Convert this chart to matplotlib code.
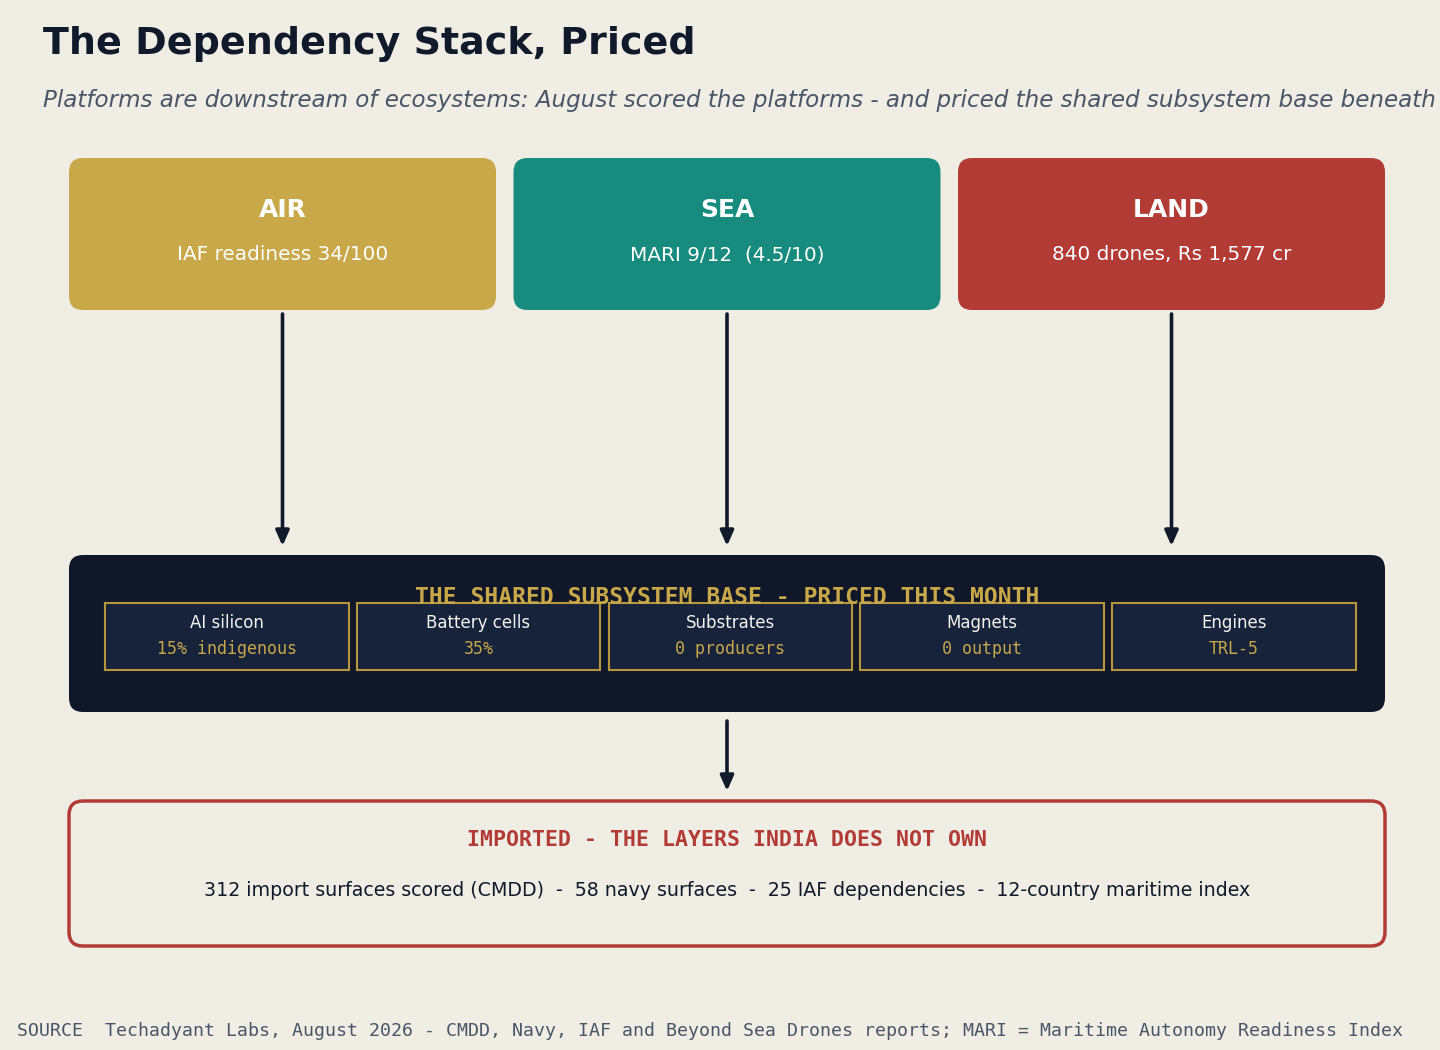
import matplotlib
matplotlib.use("Agg")
import matplotlib.pyplot as plt
from matplotlib.patches import FancyBboxPatch, Rectangle

# ---- data ----
title = "The Dependency Stack, Priced"
subtitle = ("Platforms are downstream of ecosystems: August scored the platforms - "
            "and priced the shared subsystem base beneath")
domains = ["AIR", "SEA", "LAND"]
domain_stats = ["IAF readiness 34/100", "MARI 9/12  (4.5/10)", "840 drones, Rs 1,577 cr"]
domain_colors = ["#c9a84a", "#168b7e", "#b33b35"]
base_title = "THE SHARED SUBSYSTEM BASE - PRICED THIS MONTH"
subsystems = ["AI silicon", "Battery cells", "Substrates", "Magnets", "Engines"]
subsystem_values = ["15% indigenous", "35%", "0 producers", "0 output", "TRL-5"]
import_title = "IMPORTED - THE LAYERS INDIA DOES NOT OWN"
import_items = ["312 import surfaces scored (CMDD)", "58 navy surfaces",
                "25 IAF dependencies", "12-country maritime index"]
source = ("SOURCE  Techadyant Labs, August 2026 - CMDD, Navy, IAF and Beyond Sea Drones "
          "reports; MARI = Maritime Autonomy Readiness Index")

BG = "#efede4"
NAVY = "#111a2b"
DARK = "#0f1729"
CELL = "#16233a"
GOLD = "#c9a84a"
GOLD_EDGE = "#b8963e"
RED = "#b33b35"
GRAY = "#4a5568"
SANS = ["DejaVu Sans"]
MONO = ["DejaVu Sans Mono"]

fig = plt.figure(figsize=(14.4, 10.5), dpi=100, facecolor=BG)
ax = fig.add_axes([0, 0, 1, 1])
ax.set_xlim(0, 1440)
ax.set_ylim(1050, 0)
ax.axis("off")
ax.set_facecolor(BG)

# title / subtitle
ax.text(43, 44, title, fontsize=27.4, fontweight="bold", color=NAVY,
        family="DejaVu Sans", va="center", ha="left")
ax.text(43, 100, subtitle, fontsize=16.55, fontstyle="italic", color=GRAY,
        family="DejaVu Sans", va="center", ha="left")

# top domain boxes
box_w, box_gap, x0 = 427, 17.5, 69
top_y, top_h = 158, 152
for i, (name, stat, col) in enumerate(zip(domains, domain_stats, domain_colors)):
    bx = x0 + i * (box_w + box_gap)
    p = FancyBboxPatch((bx, top_y), box_w, top_h,
                       boxstyle="round,pad=0,rounding_size=14",
                       facecolor=col, edgecolor="none")
    ax.add_patch(p)
    cx = bx + box_w / 2
    ax.text(cx, 210, name, fontsize=18, fontweight="bold", color="white",
            family="DejaVu Sans", ha="center", va="center")
    ax.text(cx, 255, stat, fontsize=14.4, color="white", family=SANS,
            ha="center", va="center")
    ax.annotate("", xy=(cx, 546), xytext=(cx, 314),
                arrowprops=dict(arrowstyle="-|>,head_length=0.9,head_width=0.4",
                                color=NAVY, lw=2.6, shrinkA=0, shrinkB=0))

# shared base
p = FancyBboxPatch((69, 555), 1316, 157, boxstyle="round,pad=0,rounding_size=14",
                   facecolor=DARK, edgecolor="none")
ax.add_patch(p)
ax.text(727, 597, base_title, fontsize=16.6, fontweight="bold", color=GOLD,
        family=MONO, ha="center", va="center")
cell_w, cell_gap, cx0 = 243.5, 8.3, 105
for i, (lab, val) in enumerate(zip(subsystems, subsystem_values)):
    bx = cx0 + i * (cell_w + cell_gap)
    r = Rectangle((bx, 603), cell_w, 67, facecolor=CELL, edgecolor=GOLD_EDGE, lw=1.5)
    ax.add_patch(r)
    ax.text(bx + cell_w / 2, 623, lab, fontsize=12, color="#f2f2f2", family=SANS,
            ha="center", va="center")
    ax.text(bx + cell_w / 2, 649, val, fontsize=12, color=GOLD, family=MONO,
            ha="center", va="center")

ax.annotate("", xy=(727, 791), xytext=(727, 721),
            arrowprops=dict(arrowstyle="-|>,head_length=0.9,head_width=0.4",
                            color=NAVY, lw=2.6, shrinkA=0, shrinkB=0))

# imported box
p = FancyBboxPatch((69, 801), 1316, 145, boxstyle="round,pad=0,rounding_size=14",
                   facecolor=BG, edgecolor=RED, lw=2.5)
ax.add_patch(p)
ax.text(727, 840, import_title, fontsize=15.5, fontweight="bold", color=RED,
        family=MONO, ha="center", va="center")
ax.text(727, 890, "  -  ".join(import_items), fontsize=13.7, color=NAVY, family=SANS,
        ha="center", va="center")

ax.text(17, 1031, source, fontsize=13.15, color=GRAY, family=MONO, ha="left", va="center")

fig.savefig("out.png", dpi=100, facecolor=BG)
